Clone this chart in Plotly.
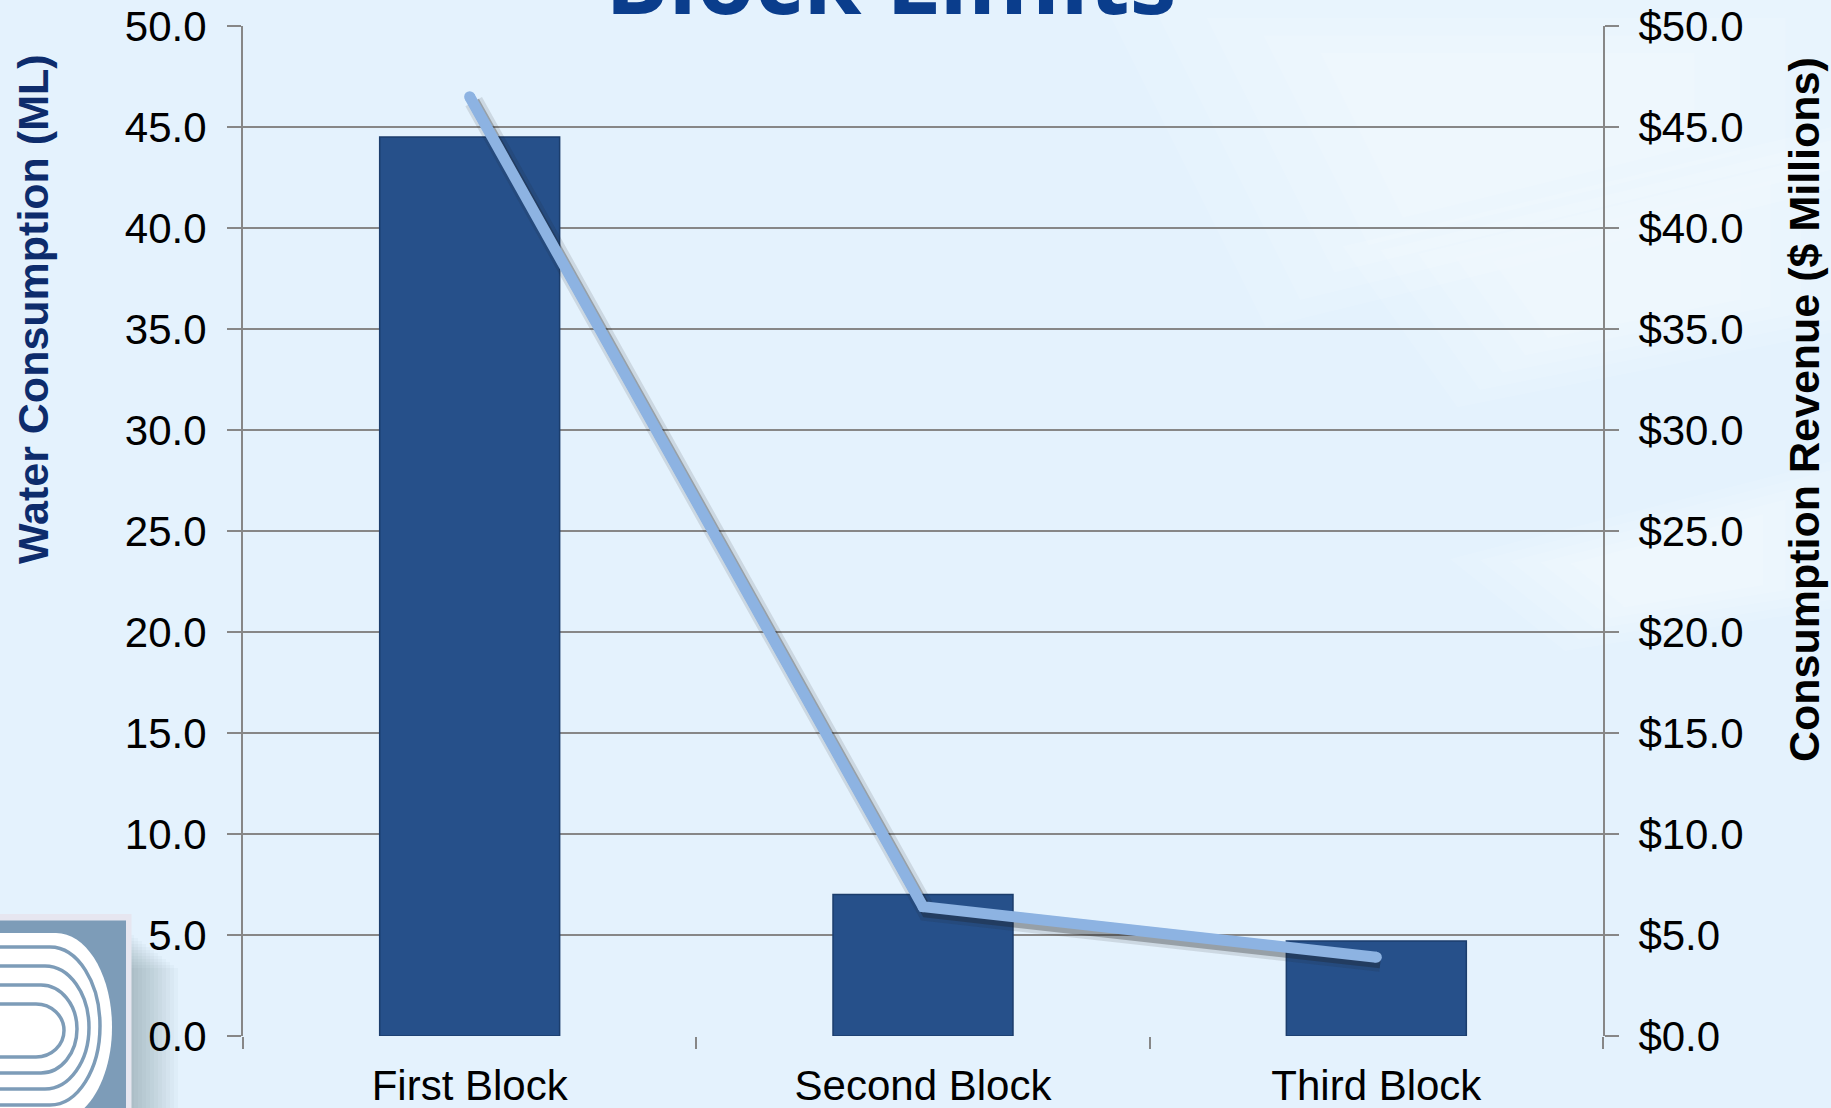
import plotly.graph_objects as go

# ---- data ----
categories = ["First Block", "Second Block", "Third Block"]
consumption_ml = [44.5, 7.0, 4.7]          # bars, left axis
revenue_millions = [46.5, 6.4, 3.9]         # line, right axis
y_ticks = [0, 5, 10, 15, 20, 25, 30, 35, 40, 45, 50]
left_tick_text = [f"{v:.1f}" for v in y_ticks]
right_tick_text = [f"${v:.1f}" for v in y_ticks]

# ---- geometry ----
W, H = 1831, 1108
L, R, T, B = 243, 228, 26, 72
PW, PH = W - L - R, H - T - B


def px(x):
    return (x - L) / PW


def py(y):
    return (H - B - y) / PH


FONT = "Liberation Sans, Arial, sans-serif"
TICK_FONT = dict(family=FONT, size=42, color="#000000")
GRID = "#878787"

fig = go.Figure()

# bars
fig.add_trace(go.Bar(
    x=categories, y=consumption_ml, xaxis="x", yaxis="y",
    marker=dict(color="#26508A", line=dict(color="#1B3D6C", width=1.5)),
    showlegend=False))

# shadow of the line (offset hidden axes, same data)
fig.add_trace(go.Scatter(
    x=categories, y=revenue_millions, xaxis="x2", yaxis="y2",
    mode="lines", line=dict(color="rgba(30,30,30,0.12)", width=19),
    hoverinfo="skip", showlegend=False))
fig.add_trace(go.Scatter(
    x=categories, y=revenue_millions, xaxis="x2", yaxis="y2",
    mode="lines", line=dict(color="rgba(30,30,30,0.30)", width=12),
    hoverinfo="skip", showlegend=False))

# line
fig.add_trace(go.Scatter(
    x=categories, y=revenue_millions, xaxis="x3", yaxis="y3",
    mode="lines+markers",
    line=dict(color="#8DB3E2", width=11),
    marker=dict(color="#8DB3E2", size=11),
    showlegend=False))

dx = 4 / (PW / 3)
dy = 5 / (PH / 50)

shapes = []
# soft light streaks in the background (decoration)
streak_sets = [
    [(1150, 0), (1831, 0), (1831, 170), (1300, 300)],
    [(1380, 250), (1831, 140), (1831, 320), (1480, 390)],
    [(1480, 560), (1831, 470), (1831, 600), (1580, 640)],
]
for pts in streak_sets:
    cx = sum(p[0] for p in pts) / 4
    cyy = sum(p[1] for p in pts) / 4
    for s in [1.15, 1.0, 0.85, 0.7, 0.55]:
        spts = [(cx + (a - cx) * s, cyy + (b - cyy) * s) for a, b in pts]
        path = "M " + " L ".join(f"{px(a):.5f},{py(b):.5f}" for a, b in spts) + " Z"
        shapes.append(dict(type="path", xref="paper", yref="paper", path=path,
                           fillcolor="white", opacity=0.10, line=dict(width=0), layer="below"))

# logo shadow (soft)
for i in range(12):
    shapes.append(dict(type="rect", xref="paper", yref="paper",
                       x0=px(131), x1=px(134 + i * 4), y0=py(1108), y1=py(935 + i * 3),
                       fillcolor="rgb(70,80,100)", opacity=0.03, line=dict(width=0), layer="below"))
# logo frame + inner
shapes.append(dict(type="rect", xref="paper", yref="paper", x0=px(-5), x1=px(131.5),
                   y0=py(1115), y1=py(914), fillcolor="#E6E6F0", line=dict(width=0), layer="below"))
shapes.append(dict(type="rect", xref="paper", yref="paper", x0=px(-5), x1=px(126),
                   y0=py(1115), y1=py(920.5), fillcolor="#7D9CB8", line=dict(width=0), layer="below"))


def dpath(top, bot, right, rx):
    cy = (top + bot) / 2
    ry = (bot - top) / 2
    x0 = right - rx
    k = 0.5523
    pts = [
        f"M {px(-5):.5f},{py(top):.5f}",
        f"L {px(x0):.5f},{py(top):.5f}",
        f"C {px(x0 + k * rx):.5f},{py(top):.5f} {px(right):.5f},{py(cy - k * ry):.5f} {px(right):.5f},{py(cy):.5f}",
        f"C {px(right):.5f},{py(cy + k * ry):.5f} {px(x0 + k * rx):.5f},{py(bot):.5f} {px(x0):.5f},{py(bot):.5f}",
        f"L {px(-5):.5f},{py(bot):.5f}",
    ]
    return " ".join(pts)


shapes.append(dict(type="path", xref="paper", yref="paper", path=dpath(933, 1121, 112, 56) + " Z",
                   fillcolor="white", line=dict(width=0), layer="below"))
for top, bot, right, rx in [(947, 1105, 100, 50), (966, 1089, 89, 44), (985, 1073, 77, 36), (1004, 1057, 64, 28)]:
    shapes.append(dict(type="path", xref="paper", yref="paper", path=dpath(top, bot, right, rx),
                       line=dict(color="#7D9CB8", width=3.5), layer="below"))

fig.update_layout(
    width=W, height=H,
    margin=dict(l=L, r=R, t=T, b=B, autoexpand=False),
    paper_bgcolor="#E4F2FD",
    plot_bgcolor="rgba(0,0,0,0)",
    bargap=0.603,
    showlegend=False,
    shapes=shapes,
    xaxis=dict(
        type="category", categoryorder="array", categoryarray=categories,
        range=[-0.5, 2.5], tickson="boundaries", ticks="outside", ticklen=12,
        tickwidth=2, tickcolor=GRID, showgrid=False, showline=False, zeroline=False,
        tickfont=TICK_FONT, ticklabelstandoff=21, fixedrange=True,
    ),
    xaxis2=dict(
        type="category", categoryorder="array", categoryarray=categories,
        overlaying="x", range=[-0.5 - dx, 2.5 - dx], visible=False, fixedrange=True,
    ),
    xaxis3=dict(
        type="category", categoryorder="array", categoryarray=categories,
        overlaying="x", range=[-0.5, 2.5], visible=False, fixedrange=True,
    ),
    yaxis=dict(
        range=[0, 50], tickvals=y_ticks, ticktext=left_tick_text, ticks="outside", ticklen=14,
        tickwidth=2, tickcolor=GRID, showline=True, linecolor=GRID, linewidth=2,
        showgrid=True, gridcolor=GRID, gridwidth=2, zeroline=False,
        tickfont=TICK_FONT, ticklabelstandoff=12, fixedrange=True,
    ),
    yaxis2=dict(
        overlaying="y", range=[0 + dy, 50 + dy], visible=False, fixedrange=True,
    ),
    yaxis3=dict(
        overlaying="y", side="right", anchor="x3", range=[0, 50], tickvals=y_ticks,
        ticktext=right_tick_text, ticks="outside", ticklen=14, tickwidth=2, tickcolor=GRID,
        showline=True, linecolor=GRID, linewidth=2, showgrid=False, zeroline=False,
        tickfont=TICK_FONT, ticklabelstandoff=11, fixedrange=True,
    ),
    annotations=[
        dict(text="Block Limits", xref="paper", yref="paper", x=px(890), y=py(43.5),
             xanchor="center", yanchor="bottom", showarrow=False,
             font=dict(family="Open Sans, sans-serif", size=94, color="#0A3D8C", weight="bold")),
        dict(text="Water Consumption (ML)", xref="paper", yref="paper", x=px(33), y=py(309),
             xanchor="center", yanchor="middle", textangle=-90, showarrow=False,
             font=dict(family=FONT, size=43, color="#0D2C6C", weight="bold")),
        dict(text="Consumption Revenue ($ Millions)", xref="paper", yref="paper", x=px(1804), y=py(410),
             xanchor="center", yanchor="middle", textangle=-90, showarrow=False,
             font=dict(family=FONT, size=43, color="#000000", weight="bold")),
    ],
)

fig.write_html("out.html", config={"displayModeBar": False},
               post_script="document.body.style.margin='0';document.body.style.overflow='hidden';")
